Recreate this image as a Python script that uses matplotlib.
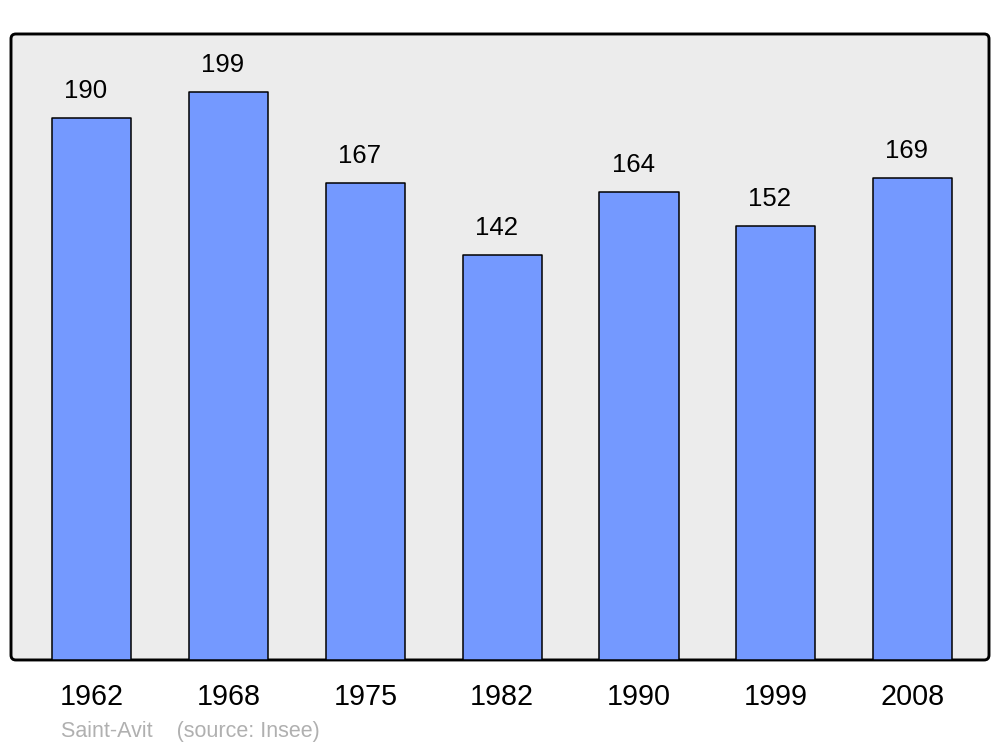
import matplotlib
matplotlib.use("Agg")
from matplotlib import pyplot as plt
from matplotlib.patches import FancyBboxPatch

# data
years = ["1962", "1968", "1975", "1982", "1990", "1999", "2008"]
population = [190, 199, 167, 142, 164, 152, 169]
footer = "Saint-Avit    (source: Insee)"

plt.rcParams["font.family"] = ["Liberation Sans", "DejaVu Sans"]

fig = plt.figure(figsize=(10, 7.47), dpi=100)
ax = fig.add_axes([0.011, 0.1165, 0.978, 0.838])

# rounded grey frame behind the bars
ax.patch.set_visible(False)
for s in ax.spines.values():
    s.set_visible(False)
frame = FancyBboxPatch(
    (0, 0), 1, 1,
    boxstyle="round,pad=0,rounding_size=0.005",
    mutation_aspect=978 / 626,
    transform=ax.transAxes,
    facecolor="#ececec",
    edgecolor="black",
    linewidth=2.1,
    clip_on=False,
    zorder=0,
)
ax.add_patch(frame)

x = range(len(years))
ax.bar(x, population, width=0.578, color="#7499ff", edgecolor="black",
       linewidth=1.1, joinstyle="round", zorder=2)

# value labels
for i, v in enumerate(population):
    ax.annotate(str(v), (i, v), textcoords="offset points", xytext=(-4.3, 14.4),
                ha="center", va="baseline", fontsize=18.5, color="black")

ax.set_xlim(-0.592, 6.559)
ax.set_ylim(0, 219.4)
ax.set_yticks([])
ax.set_xticks(list(x))
ax.set_xticklabels(years, fontsize=20.7)
ax.tick_params(axis="x", length=0, pad=16.5)

fig.text(0.061, 1 - 737 / 747, footer, fontsize=15.5, color="#b0b0b0",
         ha="left", va="baseline")

fig.savefig("out.png", dpi=100)
